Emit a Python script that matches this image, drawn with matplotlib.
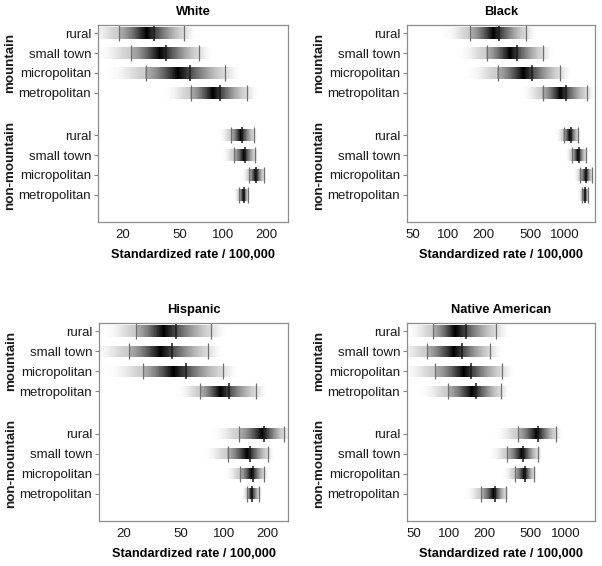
import numpy as np
import matplotlib
matplotlib.use('Agg')
import matplotlib.pyplot as plt
from matplotlib.ticker import NullLocator
from matplotlib.colors import LinearSegmentedColormap

plt.rcParams['font.family'] = ['Liberation Sans', 'DejaVu Sans']

# rows, top to bottom
row_labels = ['rural', 'small town', 'micropolitan', 'metropolitan',
              'rural', 'small town', 'micropolitan', 'metropolitan']
row_y = [0, 1, 2, 3, 5.1, 6.1, 7.1, 8.1]

# White
white_lo = [18.9, 22.9, 28.9, 59.4, 114, 119.6, 153, 130]
white_peak = [29.2, 36.2, 48.5, 85, 133, 140, 169, 139]
white_med = [32.9, 40.3, 58.8, 95.6, 135.7, 143, 171, 140]
white_hi = [53.7, 68.4, 104, 147, 164.7, 168, 193, 150]

# Black
black_lo = [155, 213, 265, 640, 967, 1147, 1345, 1390]
black_peak = [243, 337, 440, 906, 1090, 1280, 1500, 1480]
black_med = [274, 390, 525, 1013, 1111, 1304, 1510, 1487]
black_hi = [463, 644, 906, 1534, 1292, 1494, 1681, 1571]

# Hispanic
hisp_lo = [24.3, 21.8, 27.3, 68.2, 128, 106, 128.8, 145]
hisp_peak = [37.7, 35.9, 44.3, 94, 185, 145, 156, 155]
hisp_med = [46.0, 43.6, 54.1, 107.8, 190, 151, 158.7, 156]
hisp_hi = [81.5, 76.8, 97.8, 167, 264, 203, 191.5, 177]

# Native American
nat_lo = [72.4, 64.4, 75.9, 97.4, 388, 314, 363, 187]
nat_peak = [112, 109, 133, 156, 560, 420, 440, 240]
nat_med = [139, 128, 154, 169, 575, 431, 448, 245]
nat_hi = [253, 225, 283, 275, 821, 575, 532, 304]

panels = [
    ('White', white_lo, white_peak, white_med, white_hi, (13.4, 285), [20, 50, 100, 200]),
    ('Black', black_lo, black_peak, black_med, black_hi, (44.5, 1796), [50, 100, 200, 500, 1000]),
    ('Hispanic', hisp_lo, hisp_peak, hisp_med, hisp_hi, (13.4, 280), [20, 50, 100, 200]),
    ('Native American', nat_lo, nat_peak, nat_med, nat_hi, (43.4, 1773), [50, 100, 200, 500, 1000]),
]

positions = [
    [98 / 602, 1 - 222 / 566, 190 / 602, 197 / 566],
    [407 / 602, 1 - 222 / 566, 188 / 602, 197 / 566],
    [99 / 602, 1 - 521 / 566, 189 / 602, 198 / 566],
    [407 / 602, 1 - 521 / 566, 188 / 602, 198 / 566],
]

shade_cmap = LinearSegmentedColormap.from_list('wb', ['#ffffff', '#000000'])


def strip_shade(lx, llo, lpk, lhi):
    # shading profile in log space: black at the peak, grey at the interval ends, then fading out
    out = np.zeros_like(lx)
    wl = max(lpk - llo, 1e-3)
    wr = max(lhi - lpk, 1e-3)
    m = (lx <= lpk) & (lx >= llo)
    t = (lpk - lx[m]) / wl
    out[m] = 0.33 + 0.67 * (1 - t) ** 1.5
    m = lx < llo
    out[m] = 0.2 * np.exp(-2.0 * ((llo - lx[m]) / (0.9 * wl)) ** 2)
    m = (lx > lpk) & (lx <= lhi)
    t = (lx[m] - lpk) / wr
    out[m] = 0.15 + 0.85 * (1 - t) ** 1.4
    m = lx > lhi
    out[m] = 0.12 * np.exp(-2.0 * ((lx[m] - lhi) / (0.25 * wr)) ** 2)
    return out


fig = plt.figure(figsize=(6.02, 5.66), dpi=100)
bar_h = 0.56
tick_h = 0.8

for pos, (title, lo, pk, med, hi, xlim, xticks) in zip(positions, panels):
    ax = fig.add_axes(pos)
    ax.set_xscale('log')
    for y, a, p, m, b in zip(row_y, lo, pk, med, hi):
        llo, lpk, lhi = np.log10(a), np.log10(p), np.log10(b)
        span = lhi - llo
        edges = np.linspace(llo - 0.9 * span, lhi + 0.5 * span, 301)
        centers = 0.5 * (edges[:-1] + edges[1:])
        shade = strip_shade(centers, llo, lpk, lhi)
        ax.pcolormesh(10 ** edges, [y - bar_h / 2, y + bar_h / 2], shade[None, :],
                      cmap=shade_cmap, vmin=0, vmax=1, shading='flat',
                      edgecolors='none', antialiased=False, rasterized=True)
        ax.vlines([a, b], y - tick_h / 2, y + tick_h / 2, color='#707070', lw=0.9)
        ax.vlines([m], y - tick_h / 2, y + tick_h / 2, color='#1a1a1a', lw=1.1)

    ax.set_xlim(*xlim)
    ax.set_ylim(9.45, -0.4)
    ax.set_xticks(xticks)
    ax.set_xticklabels([str(v) for v in xticks])
    ax.xaxis.set_minor_locator(NullLocator())
    ax.set_yticks(row_y)
    ax.set_yticklabels(row_labels)
    ax.tick_params(axis='both', labelsize=9.5, colors='#888888', labelcolor='#1a1a1a',
                   length=3, width=0.8, pad=2)
    ax.tick_params(axis='x', length=0, pad=5)
    for s in ax.spines.values():
        s.set_color('#8c8c8c')
        s.set_linewidth(0.9)
    ax.set_title(title, fontsize=9.3, fontweight='bold', pad=7)
    ax.set_xlabel('Standardized rate / 100,000', fontsize=9.2, fontweight='bold', labelpad=6)

    # group labels on the left
    x0 = pos[0] - 88 / 602
    for yc, txt in [(1.5, 'mountain'), (6.6, 'non-mountain')]:
        yfig = ax.transData.transform((1, yc))[1]
        yfrac = fig.transFigure.inverted().transform((0, yfig))[1]
        fig.text(x0, yfrac, txt, rotation=90, ha='center', va='center',
                 fontsize=9.6, fontweight='bold', color='#1a1a1a')

fig.savefig('out.png', dpi=100)
